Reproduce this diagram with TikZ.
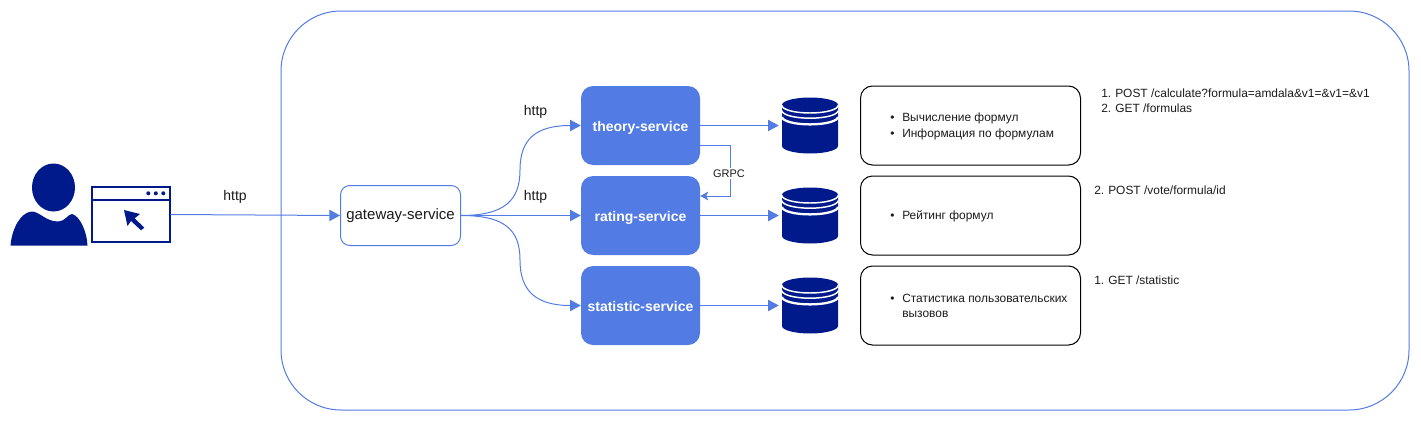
\documentclass[tikz,border=0pt]{standalone}
\usepackage{fontspec}
\setmainfont{Liberation Sans}
\usetikzlibrary{arrows.meta}
\definecolor{lineblue}{HTML}{527BE3}
\definecolor{boxblue}{HTML}{527BE3}
\definecolor{navy}{HTML}{001A8C}
\definecolor{ink}{HTML}{1A1A1A}
\tikzset{
  every node/.style={text=ink},
  conn/.style={draw=lineblue,line width=.75pt,-{Triangle[length=8pt,width=8.5pt,fill=lineblue]}},
  todb/.style={conn,shorten >=2.25pt},
  svc/.style={fill=boxblue,rounded corners=9pt,minimum width=89.25pt,minimum height=59.25pt,inner sep=0pt,text=white,font=\fontsize{10.5}{12}\selectfont,text height=9.5pt,text depth=0pt},
  infobox/.style={draw=black,line width=.75pt,rounded corners=9pt,minimum width=165pt,minimum height=59.25pt,inner sep=0pt},
  gate/.style={draw=lineblue,line width=.75pt,fill=white,rounded corners=7pt,minimum width=90pt,minimum height=45pt,inner sep=0pt,font=\fontsize{11.25}{12}\selectfont},
  lbl/.style={font=\fontsize{10.5}{12}\selectfont,inner sep=0pt},
  listtext/.style={font=\fontsize{8.95}{11.6}\selectfont,inner sep=0pt,align=left,anchor=west},
  dbspot/.style={minimum width=42pt,minimum height=42pt,inner sep=0pt,draw=none}
}
\newcommand{\bul}{\makebox[9pt][l]{\textbullet}}
\newcommand{\num}[1]{\makebox[10.5pt][l]{#1}}
\newcommand{\dbicon}[1]{%
  \begin{scope}[shift={(#1)}]
    \fill[navy] (-28,-20.5) arc[start angle=180,end angle=360,x radius=28,y radius=7.5] -- (28,20.5) arc[start angle=0,end angle=180,x radius=28,y radius=7.5] -- cycle;
    \draw[white,line width=1.1pt] (-28,-20) arc[start angle=180,end angle=0,x radius=28,y radius=7.5];
    \draw[white,line width=1.1pt] (-28,-14.8) arc[start angle=180,end angle=0,x radius=28,y radius=7.5];
    \draw[white,line width=1.7pt] (-28,-8.6) arc[start angle=180,end angle=0,x radius=28,y radius=7.5];
  \end{scope}}
\begin{document}
\begin{tikzpicture}[x=0.75pt,y=-0.75pt]
\useasboundingbox (0,0) rectangle (1421,421);
\node[draw=lineblue,line width=.75pt,rounded corners=45pt,minimum width=846pt,minimum height=299.25pt,inner sep=0pt] (frame) at (845,210.5) {};

% user
\fill[navy] (53.5,187.5) ellipse[x radius=21.5,y radius=24];
\fill[navy] (10.5,245.5) .. controls (12,228) and (21,212) .. (32,211.5) .. controls (40,212) and (46,221.5) .. (58,221.5) .. controls (66,221) and (68,214) .. (72,214) .. controls (80,216) and (87,232) .. (87.5,245.5) -- cycle;
% browser window
\node[draw=navy,line width=1.5pt,fill=white,minimum width=58.5pt,minimum height=41pt,inner sep=0pt] (browser) at (130.5,214.5) {};
\draw[navy,line width=1.5pt] (91,199.5) -- (170,199.5);
\foreach \dx in {148.3,155.8,163.3}{\fill[navy] (\dx,193.3) circle[radius=2];}
\fill[navy] (124,210) -- (140,214) -- (134.7,218.3) -- (144.3,227.7) -- (141,230.3) -- (131,221) -- (127.5,226) -- cycle;

% services
\node[gate] (gw) at (400.5,215.5) {gateway-service};
\node[svc] (theory) at (640.5,125.5) {\bfseries theory-service};
\node[svc] (rating) at (640.5,215.5) {\bfseries rating-service};
\node[svc] (stat) at (640.5,305.5) {\bfseries statistic-service};

% databases
\node[dbspot] (db1) at (810,125.5) {};
\node[dbspot] (db2) at (810,215.5) {};
\node[dbspot] (db3) at (810,305.5) {};
\dbicon{810,125.5}
\dbicon{810,215.5}
\dbicon{810,305.5}

% info boxes
\node[infobox] (i1) at (970.5,125.5) {};
\node[infobox] (i2) at (970.5,215.5) {};
\node[infobox] (i3) at (970.5,305.5) {};
\node[listtext] (t1) at (890,126.5) {\bul Вычисление формул\\\bul Информация по формулам};
\node[listtext] (t2) at (890,216) {\bul Рейтинг формул};
\node[listtext] (t3) at (890,306) {\bul Статистика пользовательских\\\makebox[9pt]{}вызовов};

% api lists
\node[listtext] (a1) at (1101,100.5) {\num{1.}POST /calculate?formula=amdala\&v1=\&v1=\&v1\\\num{2.}GET /formulas};
\node[listtext] (a2) at (1094,190.5) {\num{2.}POST /vote/formula/id};
\node[listtext] (a3) at (1094,280.5) {\num{1.}GET /statistic};

% connectors
\coordinate (c1) at (520,170);
\coordinate (c3) at (520,260);
\draw[conn] (browser.east) -- (gw.west);
\draw[conn] (gw.east) .. controls (505,215.5) and (520,200) .. (c1) .. controls (520,140) and (535,125.5) .. (theory.west);
\draw[conn] (gw.east) -- (rating.west);
\draw[conn] (gw.east) .. controls (505,215.5) and (520,230) .. (c3) .. controls (520,290) and (535,305.5) .. (stat.west);
\draw[todb] (theory.east) -- (db1.west);
\draw[todb] (rating.east) -- (db2.west);
\draw[todb] (stat.east) -- (db3.west);
\coordinate (g1) at (730,145);
\coordinate (g2) at (730,196);
\draw[draw=lineblue,line width=.75pt,-{Stealth[length=6pt,width=6.5pt,inset=1.5pt,fill=lineblue]}] (theory.east |- g1) -- (g1) -- (g2) -- (rating.east |- g2);
\node[fill=white,inner sep=1pt,font=\fontsize{8.25}{10}\selectfont] (grpc) at (729,173.5) {GRPC};

% labels
\node[lbl] (h0) at (235,197) {http};
\node[lbl] (h1) at (535.5,112) {http};
\node[lbl] (h2) at (535.5,197) {http};
\end{tikzpicture}
\end{document}
